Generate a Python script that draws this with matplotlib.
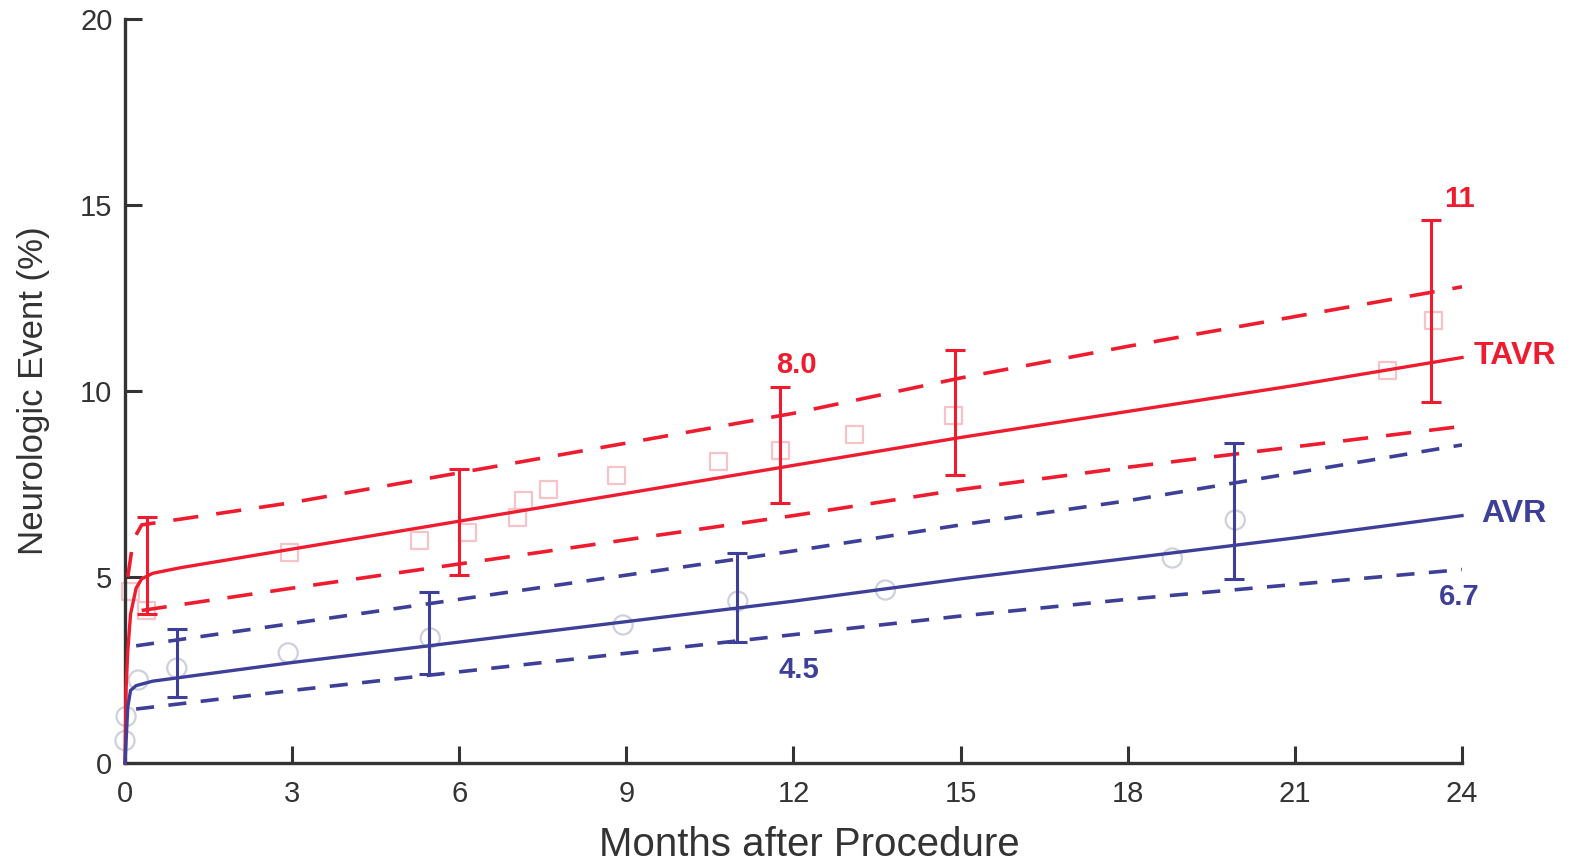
import numpy as np
import matplotlib
matplotlib.use("Agg")
import matplotlib.pyplot as plt

plt.rcParams['font.family'] = ['Liberation Sans', 'DejaVu Sans']

RED = '#ee1c2e'
BLUE = '#3d3f99'
PINK = '#f6c3c8'
GREYBLUE = '#cfd0de'

# fitted curves (months, %)
tavr_t = [0, 0.02, 0.05, 0.1, 0.2, 0.3, 0.5, 1, 3, 6, 9, 12, 15, 18, 21, 24]
tavr_mid = [0, 2.0, 3.0, 4.0, 4.7, 4.95, 5.1, 5.25, 5.75, 6.5, 7.25, 8.0, 8.75, 9.45, 10.15, 10.9]

tavr_up_t = [0.05, 0.15, 0.3, 3, 6, 9, 12, 15, 18, 21, 24]
tavr_up = [5.0, 6.0, 6.4, 7.0, 7.8, 8.6, 9.4, 10.35, 11.2, 12.0, 12.8]
tavr_lo_t = [0.3, 3, 6, 9, 12, 15, 18, 21, 24]
tavr_lo = [4.1, 4.7, 5.35, 6.0, 6.65, 7.35, 7.95, 8.5, 9.05]

avr_t = [0, 0.05, 0.1, 0.2, 0.5, 1, 3, 6, 9, 12, 15, 18, 21, 24]
avr_mid = [0, 1.5, 1.95, 2.08, 2.2, 2.3, 2.7, 3.25, 3.8, 4.35, 4.95, 5.5, 6.05, 6.65]
avr_band_t = [0.2, 3, 6, 9, 12, 15, 18, 21, 24]
avr_up = [3.15, 3.75, 4.4, 5.05, 5.7, 6.4, 7.05, 7.8, 8.55]
avr_lo = [1.45, 1.95, 2.45, 2.95, 3.45, 3.95, 4.4, 4.8, 5.2]

# error bars (month, center, low, high)
tavr_eb_t = [0.4, 6.0, 11.76, 14.9, 23.45]
tavr_eb_mid = [5.0, 6.5, 7.9, 8.7, 10.85]
tavr_eb_lo = [4.0, 5.05, 7.0, 7.75, 9.7]
tavr_eb_hi = [6.6, 7.9, 10.1, 11.1, 14.6]

avr_eb_t = [0.93, 5.45, 10.99, 19.9]
avr_eb_mid = [2.28, 3.3, 4.3, 5.9]
avr_eb_lo = [1.77, 2.4, 3.25, 4.95]
avr_eb_hi = [3.6, 4.6, 5.65, 8.6]

# observed (faint) points
tavr_obs_t = [0.1, 0.39, 2.96, 5.28, 6.14, 7.04, 7.16, 7.6, 8.83, 10.65, 11.76, 13.1, 14.87, 22.66, 23.48]
tavr_obs = [4.6, 4.1, 5.65, 5.97, 6.2, 6.6, 7.05, 7.35, 7.72, 8.1, 8.41, 8.82, 9.33, 10.56, 11.9]
avr_obs_t = [0.0, 0.02, 0.24, 0.93, 2.93, 5.48, 8.94, 11.0, 13.65, 18.8, 19.93]
avr_obs = [0.6, 1.25, 2.23, 2.55, 2.96, 3.36, 3.71, 4.35, 4.65, 5.51, 6.53]

fig = plt.figure(figsize=(15.78, 8.63), dpi=100)
ax = fig.add_axes([0.0792, 0.1159, 0.8473, 0.8621])

# faint observed markers
ax.scatter(tavr_obs_t, tavr_obs, marker='s', s=150, facecolors='none',
           edgecolors=PINK, linewidths=1.6, zorder=2, clip_on=False)
ax.scatter(avr_obs_t, avr_obs, marker='o', s=190, facecolors='none',
           edgecolors=GREYBLUE, linewidths=1.6, zorder=2, clip_on=False)

# curves
ax.plot(tavr_t, tavr_mid, color=RED, lw=2.4, zorder=4, clip_on=False)
ax.plot(tavr_up_t, tavr_up, color=RED, lw=2.6, ls=(0, (7, 5)), zorder=3)
ax.plot(tavr_lo_t, tavr_lo, color=RED, lw=2.6, ls=(0, (7, 5)), zorder=3)

ax.plot(avr_t, avr_mid, color=BLUE, lw=2.4, zorder=4, clip_on=False)
ax.plot(avr_band_t, avr_up, color=BLUE, lw=2.6, ls=(0, (5, 4)), zorder=3)
ax.plot(avr_band_t, avr_lo, color=BLUE, lw=2.6, ls=(0, (5, 4)), zorder=3)

# error bars
tavr_err = [np.subtract(tavr_eb_mid, tavr_eb_lo), np.subtract(tavr_eb_hi, tavr_eb_mid)]
ax.errorbar(tavr_eb_t, tavr_eb_mid, yerr=tavr_err, fmt='none', ecolor=RED,
            elinewidth=2.2, capsize=7, capthick=2.2, zorder=5)
avr_err = [np.subtract(avr_eb_mid, avr_eb_lo), np.subtract(avr_eb_hi, avr_eb_mid)]
ax.errorbar(avr_eb_t, avr_eb_mid, yerr=avr_err, fmt='none', ecolor=BLUE,
            elinewidth=2.2, capsize=7, capthick=2.2, zorder=5)

# annotations
ax.text(12.05, 10.7, '8.0', color=RED, fontsize=21, fontweight='bold', ha='center', va='center')
ax.text(23.95, 15.15, '11', color=RED, fontsize=21, fontweight='bold', ha='center', va='center')
ax.text(24.2, 10.95, 'TAVR', color=RED, fontsize=23, fontweight='bold', ha='left', va='center')
ax.text(24.35, 6.7, 'AVR', color=BLUE, fontsize=23, fontweight='bold', ha='left', va='center')
ax.text(23.95, 4.45, '6.7', color=BLUE, fontsize=21, fontweight='bold', ha='center', va='center')
ax.text(12.1, 2.5, '4.5', color=BLUE, fontsize=21, fontweight='bold', ha='center', va='center')

ax.set_xlim(0, 24)
ax.set_ylim(0, 20)
ax.set_xticks(range(0, 25, 3))
ax.set_yticks(range(0, 21, 5))
for s in ['top', 'right']:
    ax.spines[s].set_visible(False)
for s in ['left', 'bottom']:
    ax.spines[s].set_linewidth(2.4)
    ax.spines[s].set_color('#333333')
ax.tick_params(direction='in', length=12, width=2.2, colors='#333333',
               labelsize=21)
ax.tick_params(axis='x', pad=12)
ax.tick_params(axis='y', pad=9)
ax.set_xlabel('Months after Procedure', fontsize=29, color='#333333')
ax.set_ylabel('Neurologic Event (%)', fontsize=25, color='#333333')
ax.xaxis.set_label_coords(0.512, -0.085)
ax.yaxis.set_label_coords(-0.056, 0.5)

fig.savefig('out.png', dpi=100)
